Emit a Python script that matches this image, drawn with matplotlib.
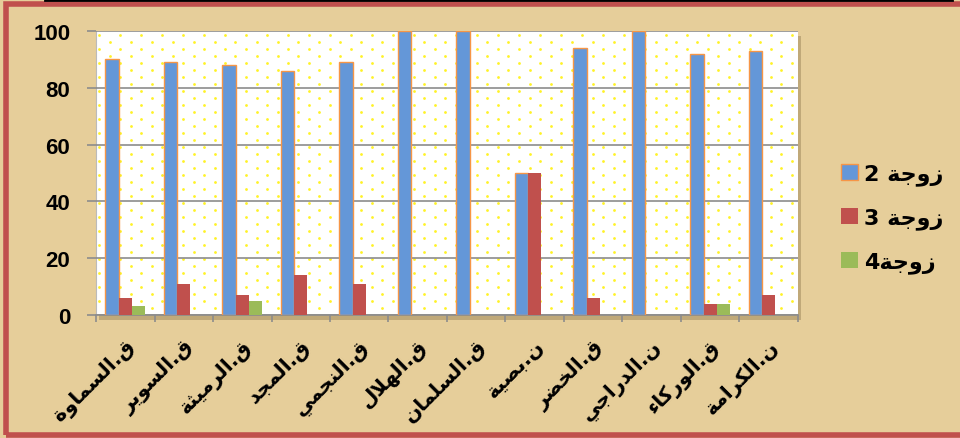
import matplotlib
matplotlib.use("Agg")
import matplotlib.pyplot as plt
from matplotlib.patches import Rectangle
from matplotlib.lines import Line2D
import numpy as np

# data
categories = ['ق.السماوة', 'ق.السوير', 'ق.الرميثة', 'ق.المجد', 'ق.النجمي', 'ق.الهلال',
              'ق.السلمان', 'ن.بصية', 'ق.الخضر', 'ن.الدراجي', 'ق.الوركاء', 'ن.الكرامة']
wife2 = [90, 89, 88, 86, 89, 100, 100, 50, 94, 100, 92, 93]
wife3 = [6, 11, 7, 14, 11, 0, 0, 50, 6, 0, 4, 7]
wife4 = [3, 0, 5, 0, 0, 0, 0, 0, 0, 0, 4, 0]
series_names = ['زوجة 2', 'زوجة 3', 'زوجة4']
yticks = [0, 20, 40, 60, 80, 100]

# matplotlib has no arabic shaping, so pick presentation forms by hand
# dual joining letters: isolated, final, initial, medial at +0..+3
DUAL = {'ب': 0xFE8F, 'ت': 0xFE95, 'ث': 0xFE99, 'ج': 0xFE9D, 'ح': 0xFEA1, 'خ': 0xFEA5,
        'س': 0xFEB1, 'ص': 0xFEB9, 'ض': 0xFEBD, 'ع': 0xFEC9, 'ق': 0xFED5, 'ك': 0xFED9,
        'ل': 0xFEDD, 'م': 0xFEE1, 'ن': 0xFEE5, 'ه': 0xFEE9, 'ي': 0xFEF1}
# right joining letters: isolated, final
RIGHT = {'ا': 0xFE8D, 'ة': 0xFE93, 'د': 0xFEA9, 'ر': 0xFEAD, 'ز': 0xFEAF, 'و': 0xFEED}


def shape(text):
    out = []
    i = 0
    n = len(text)
    while i < n:
        c = text[i]
        prev = text[i - 1] if i > 0 else ''
        if c == 'ل' and i + 1 < n and text[i + 1] == 'ا':
            out.append(chr(0xFEFC if prev in DUAL else 0xFEFB))
            i += 2
            continue
        if c in DUAL or c in RIGHT:
            p = prev in DUAL
            nx = c in DUAL and i + 1 < n and (text[i + 1] in DUAL or text[i + 1] in RIGHT)
            if c in DUAL:
                off = 3 if (p and nx) else 1 if p else 2 if nx else 0
                out.append(chr(DUAL[c] + off))
            else:
                out.append(chr(RIGHT[c] + (1 if p else 0)))
        elif c == 'ء':
            out.append('\uFE80')
        else:
            out.append(c)
        i += 1
    return ''.join(reversed(out))


blue = '#6497D8'
red = '#C0504D'
green = '#9BBB59'
orange = '#F79646'
grey = '#8C8C8C'

fig = plt.figure(figsize=(9.6, 4.39), dpi=100)
fig.patch.set_facecolor('#E6CE9A')

ax_w, ax_h = 702, 284
ax = fig.add_axes([96 / 960, 1 - 316 / 439, ax_w / 960, ax_h / 439])
ax.set_facecolor('white')

# shadow under the plot area
fig.patches.append(Rectangle((99 / 960, 1 - 321 / 439), ax_w / 960, ax_h / 439,
                             transform=fig.transFigure, facecolor='#B09A6C',
                             edgecolor='none', alpha=0.7, zorder=-2))

# yellow dot pattern of the plot area (staggered rows, 7 px apart)
dx, dy = 21.0, 7.0
px, py = [], []
for r, yy in enumerate(np.arange(4, ax_h, dy)):
    start = 3 if r % 2 == 0 else 3 + dx / 2
    for xx in np.arange(start, ax_w, dx):
        px.append(xx / ax_w)
        py.append(1 - yy / ax_h)
ax.scatter(px, py, s=4, color='#FFF000', alpha=0.85, linewidths=0,
           transform=ax.transAxes, zorder=0.5, clip_on=True)

x = np.arange(len(categories))
w = 0.228
ax.bar(x - w, wife2, w, color=blue, edgecolor=orange, linewidth=1, label=shape(series_names[0]), zorder=3)
ax.bar(x, wife3, w, color=red, linewidth=0, label=shape(series_names[1]), zorder=3)
ax.bar(x + w, wife4, w, color=green, linewidth=0, label=shape(series_names[2]), zorder=3)

ax.set_xlim(-0.5, len(categories) - 0.5)
ax.set_ylim(0, 100)
ax.set_yticks(yticks)
ax.set_yticklabels([str(v) for v in yticks], fontsize=16, fontweight='bold',
                   family='Liberation Sans')
ax.yaxis.grid(True, color=grey, linewidth=1.2, zorder=1)
ax.set_axisbelow(False)
for gl in ax.get_ygridlines():
    gl.set_zorder(1)
ax.tick_params(axis='y', length=6.5, width=1.2, color=grey, pad=12)

ax.set_xticks(x)
ax.set_xticklabels([shape(c) for c in categories], rotation=45, ha='right', va='top',
                   rotation_mode='anchor', fontsize=14.5, fontweight='bold', family='DejaVu Sans')
ax.tick_params(axis='x', which='major', length=0, pad=15)
ax.set_xticks(np.arange(len(categories) + 1) - 0.5, minor=True)
ax.tick_params(axis='x', which='minor', length=5, width=1.2, color=grey)

for s in ['top', 'right']:
    ax.spines[s].set_visible(False)
ax.spines['bottom'].set_color(grey)
ax.spines['bottom'].set_linewidth(1.2)
ax.spines['left'].set_color('#BBBBBB')
ax.spines['left'].set_linewidth(0.8)

leg = ax.legend(loc='center left', bbox_to_anchor=(841 / 960, 0.5), bbox_transform=fig.transFigure,
                frameon=False, handlelength=0.75, handleheight=0.75, handletextpad=0.3,
                labelspacing=1.0, borderpad=0, borderaxespad=0,
                prop={'family': 'DejaVu Sans', 'weight': 'bold', 'size': 16})

# red frame and black line at the top
fig.patches.append(Rectangle((6 / 960, 3 / 439), 1.0, 1 - 8 / 439, transform=fig.transFigure,
                             facecolor='none', edgecolor=red, linewidth=4, zorder=5))
fig.lines.append(Line2D([45 / 960, 952 / 960], [1 - 1 / 439, 1 - 1 / 439], transform=fig.transFigure,
                        color='black', linewidth=2, zorder=6))

fig.savefig('out.png', dpi=100, facecolor=fig.get_facecolor())
